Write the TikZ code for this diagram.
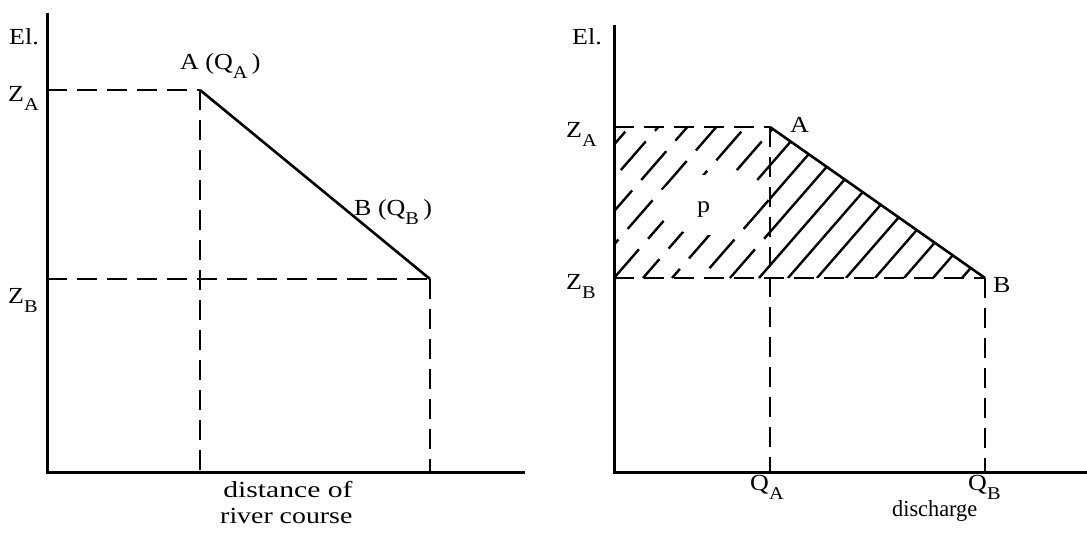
\documentclass[tikz,border=0pt]{standalone}
\usepackage{fontspec}
\setmainfont{Liberation Serif}
\newcommand\sbs[1]{\raisebox{-0.4em}{\fontsize{18}{18}\selectfont #1}}
\begin{document}
\begin{tikzpicture}[x=1pt,y=-1pt,
  every node/.style={font=\fontsize{23}{27}\selectfont, inner sep=0pt, anchor=base west},
  capl/.style={xscale=1.13},
  ax/.style={line width=3pt},
  ln/.style={line width=2.6pt},
  dsh/.style={line width=2.6pt, dash pattern=on 20pt off 10pt},
  hat/.style={line width=2.4pt}]
\useasboundingbox (0,0) rectangle (1087,536);
% ---------------- left panel
\coordinate (O1) at (47,472);
\coordinate (T1) at (47,13);
\coordinate (X1) at (525,472);
\coordinate (ZA1) at (47,90);
\coordinate (A1) at (200,90);
\coordinate (ZB1) at (47,279);
\coordinate (B1) at (430,279);
\coordinate (QA1) at (200,472);
\coordinate (QB1) at (430,472);
\draw[ax] (T1) -- (O1) -- (X1);
\draw[dsh] (ZA1) -- (A1);
\draw[dsh] (A1) -- (QA1);
\draw[ln] (A1) -- (B1);
\draw[dsh] (ZB1) -- (B1);
\draw[dsh] (B1) -- (QB1);
\node[capl] (el1) at (9,44) {El.};
\node[capl] (za1) at (8,101) {Z\sbs{A}};
\node[capl] (zb1) at (8,303) {Z\sbs{B}};
\node[capl] (la1) at (180,69) {A (Q\sbs{A}\,)};
\node[capl] (lb1) at (354,215) {B (Q\sbs{B}\,)};
\node[xscale=1.29] (d1) at (223,497) {distance of};
\node[xscale=1.21] (d2) at (220,523) {river course};
% ---------------- right panel
\coordinate (O2) at (614,472);
\coordinate (T2) at (614,25);
\coordinate (X2) at (1087,472);
\coordinate (ZA2) at (614,127);
\coordinate (A2) at (770,127);
\coordinate (ZB2) at (614,278);
\coordinate (M2) at (770,278);
\coordinate (B2) at (985,278);
\coordinate (QA2) at (770,472);
\coordinate (QB2) at (985,472);
% hatching
\begin{scope}
  \clip (A2) -- (B2) -- (M2) -- cycle;
  \foreach \k in {-6,...,14} \draw[hat] ({614+29*\k},278) -- ++(131.3,-151);
\end{scope}
\begin{scope}
  \clip (ZA2) rectangle (M2);
  \foreach \k in {-6,...,6} \draw[hat, dash pattern=on 38pt off 14pt, dash phase={13*\k}] ({614+29*\k},278) -- ++(131.3,-151);
  \fill[white] (706,205) ellipse [x radius=50, y radius=30];
\end{scope}
\draw[ax] (T2) -- (O2) -- (X2);
\draw[dsh] (ZA2) -- (A2);
\draw[dsh] (A2) -- (QA2);
\draw[ln] (A2) -- (B2);
\draw[dsh] (ZB2) -- (B2);
\draw[dsh] (B2) -- (QB2);
\node[capl] (el2) at (572,44) {El.};
\node[capl] (za2) at (566,137) {Z\sbs{A}};
\node[capl] (zb2) at (566,289) {Z\sbs{B}};
\node[capl] (la2) at (790,132) {A};
\node[capl] (lb2) at (993,292) {B};
\node[capl] (p) at (697,212) {p};
\node[capl] (qa2) at (750,490) {Q\sbs{A}};
\node[capl] (qb2) at (968,490) {Q\sbs{B}};
\node[xscale=0.97] (dis) at (892,516) {discharge};
\end{tikzpicture}
\end{document}
